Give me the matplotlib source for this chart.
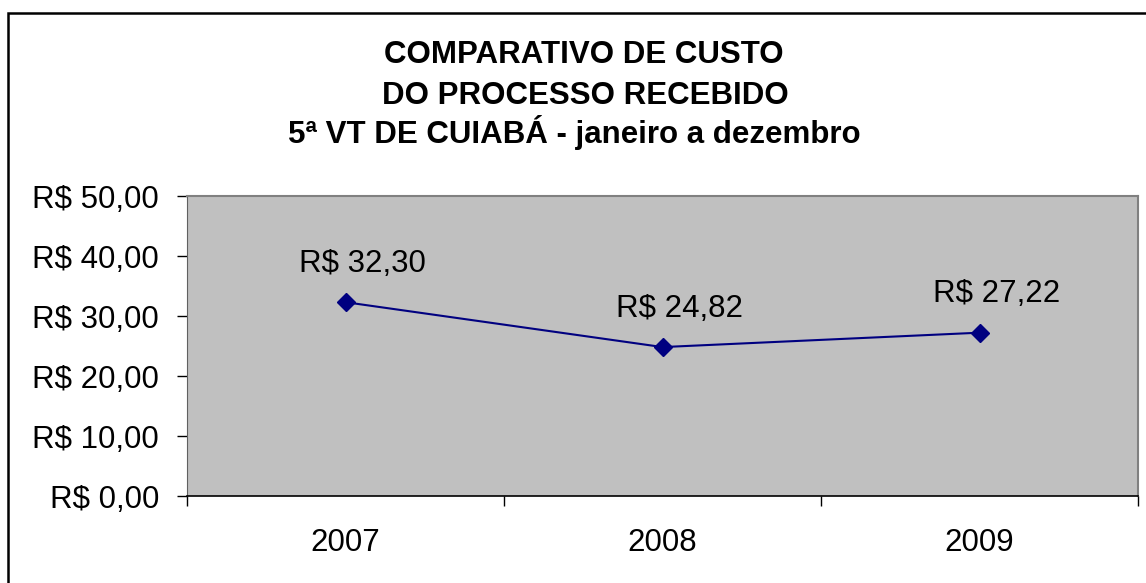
import matplotlib
matplotlib.use("Agg")
import matplotlib.pyplot as plt
from matplotlib.patches import Rectangle

plt.rcParams['font.family'] = ['Liberation Sans', 'DejaVu Sans']

anos = ['2007', '2008', '2009']
custos = [32.30, 24.82, 27.22]
rotulos = ['R$ 32,30', 'R$ 24,82', 'R$ 27,22']
yticks = [0, 10, 20, 30, 40, 50]
ytick_labels = ['R$ 0,00', 'R$ 10,00', 'R$ 20,00', 'R$ 30,00', 'R$ 40,00', 'R$ 50,00']
titulo = ['COMPARATIVO DE CUSTO', 'DO PROCESSO RECEBIDO', '5ª VT DE CUIABÁ - janeiro a dezembro']

W, H = 1146, 583
fig = plt.figure(figsize=(W / 100, H / 100), dpi=100)

# moldura externa (so aparecem esquerda e topo)
fig.patches.append(Rectangle((8 / W, -0.1), 1.2, 1 - 13 / H + 0.1, transform=fig.transFigure,
                             fill=False, edgecolor='black', linewidth=1.8))

ax = fig.add_axes([187 / W, 1 - 496 / H, (1138 - 187) / W, 300 / H])
ax.set_facecolor('#C0C0C0')

x = list(range(len(anos)))
ax.plot(x, custos, color='#000080', linewidth=1.5, marker='D', markersize=9)

for xi, yi, lab in zip(x, custos, rotulos):
    ax.annotate(lab, (xi, yi), xytext=(12, 22), textcoords='offset points',
                ha='center', va='baseline', fontsize=22.5)

ax.set_xlim(-0.5, len(anos) - 0.5)
ax.set_ylim(0, 50)
ax.set_yticks(yticks)
ax.set_yticklabels(ytick_labels, fontsize=22.5)
ax.set_xticks([i - 0.5 for i in range(len(anos) + 1)])
ax.set_xticklabels([])
ax.set_xticks(x, minor=True)
ax.set_xticklabels(anos, minor=True, fontsize=22.5)
ax.tick_params(axis='x', which='minor', length=0, pad=23)
ax.tick_params(axis='x', which='major', length=7, width=1, direction='out')
ax.tick_params(axis='y', length=7, width=1, direction='out', pad=13)

for s in ['top', 'right']:
    ax.spines[s].set_color('#808080')
    ax.spines[s].set_linewidth(1.5)
ax.spines['left'].set_color('#606060')
ax.spines['bottom'].set_color('black')
ax.spines['bottom'].set_linewidth(1.2)

# titulo em tres linhas, espacamento igual
for linha, yb, xc in zip(titulo, [63, 104, 143], [584, 585, 574]):
    fig.text(xc / W, 1 - yb / H, linha, ha='center', va='baseline', fontsize=22.5,
             fontweight='bold')

fig.savefig('out.png', dpi=100)
